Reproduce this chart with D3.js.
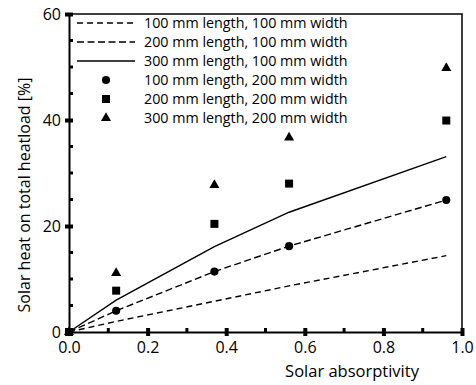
<!DOCTYPE html>
<html>
<head>
<meta charset="utf-8">
<script src="https://cdn.jsdelivr.net/npm/d3@7"></script>
<style>
  body { margin: 0; background: #fff; }
  svg text { font-family: "Open Sans", "Noto Sans", sans-serif; fill: #000; }
</style>
</head>
<body>
<svg id="chart" width="476" height="385"></svg>
<script>
// absorptivity values where the models were evaluated
let absorptivity = [0, 0.12, 0.37, 0.56, 0.96];

// lines (100 mm width)
let len100w100 = [0, 2.0, 5.8, 8.7, 14.4];
let len200w100 = [0, 4.0, 11.4, 16.2, 24.9];
let len300w100 = [0, 6.0, 16.1, 22.6, 33.1];

// markers (200 mm width)
let len100w200 = [0, 4.0, 11.4, 16.2, 24.9];
let len200w200 = [0, 7.8, 20.4, 28.0, 39.9];
let len300w200 = [0, 11.1, 27.7, 36.7, 49.8];

let xMajor = [0, 0.2, 0.4, 0.6, 0.8, 1.0];
let xMinor = [0.1, 0.3, 0.5, 0.7, 0.9];
let yMajor = [0, 20, 40, 60];
let yMinor = [5, 10, 15, 25, 30, 35, 45, 50, 55];

let lineSeries = [
  {name: "100 mm length, 100 mm width", values: len100w100, dash: "6,4"},
  {name: "200 mm length, 100 mm width", values: len200w100, dash: "7,3.5"},
  {name: "300 mm length, 100 mm width", values: len300w100, dash: null}
];
let markerSeries = [
  {name: "100 mm length, 200 mm width", values: len100w200, symbol: d3.symbolCircle, size: 52},
  {name: "200 mm length, 200 mm width", values: len200w200, symbol: d3.symbolSquare, size: 64},
  {name: "300 mm length, 200 mm width", values: len300w200, symbol: d3.symbolTriangle, size: 44}
];

let svg = d3.select("#chart");
let margin = {top: 14, right: 14, bottom: 53, left: 69};
let width = 476 - margin.left - margin.right, height = 385 - margin.top - margin.bottom;

let x = d3.scaleLinear().domain([0, 1]).range([0, width]);
let y = d3.scaleLinear().domain([0, 60]).range([height, 0]);

let g = svg.append("g").attr("transform", `translate(${margin.left},${margin.top})`);

// top and right frame
g.append("path")
  .attr("d", `M0,0H${width}V${height}`)
  .attr("fill", "none")
  .attr("stroke", "#000")
  .attr("stroke-width", 1.5);

// data lines
let line = d3.line().x((d, i) => x(absorptivity[i])).y(d => y(d));
lineSeries.forEach(s => {
  g.append("path")
    .datum(s.values)
    .attr("d", line)
    .attr("fill", "none")
    .attr("stroke", "#000")
    .attr("stroke-width", 1.4)
    .attr("stroke-dasharray", s.dash);
});

// markers
markerSeries.forEach(s => {
  g.append("g").selectAll("path")
    .data(s.values)
    .join("path")
    .attr("transform", (d, i) => `translate(${x(absorptivity[i])},${y(d)})`)
    .attr("d", d3.symbol().type(s.symbol).size(s.size))
    .attr("fill", "#000");
});

// x axis
let xAxis = g.append("g")
  .attr("transform", `translate(0,${height})`)
  .call(d3.axisBottom(x).tickValues(xMajor).tickSize(4).tickPadding(6).tickFormat(d3.format(".1f")));
xAxis.select(".domain").attr("stroke-width", 2).attr("stroke", "#000");
xAxis.selectAll(".tick line").attr("y1", -4).attr("stroke-width", 4).attr("stroke", "#000");
xAxis.selectAll(".tick text").attr("font-size", 16).attr("fill", "#000");
g.append("g").selectAll("line")
  .data(xMinor)
  .join("line")
  .attr("x1", d => x(d)).attr("x2", d => x(d))
  .attr("y1", height).attr("y2", height - 4)
  .attr("stroke", "#000").attr("stroke-width", 3);

// y axis
let yAxis = g.append("g")
  .call(d3.axisLeft(y).tickValues(yMajor).tickSize(4).tickPadding(4));
yAxis.select(".domain").attr("stroke-width", 2).attr("stroke", "#000");
yAxis.selectAll(".tick line").attr("x1", 4).attr("stroke-width", 4).attr("stroke", "#000");
yAxis.selectAll(".tick text").attr("font-size", 16).attr("fill", "#000");
g.append("g").selectAll("line")
  .data(yMinor)
  .join("line")
  .attr("x1", 0).attr("x2", 4)
  .attr("y1", d => y(d)).attr("y2", d => y(d))
  .attr("stroke", "#000").attr("stroke-width", 3);

// axis titles
svg.append("text")
  .attr("x", 352).attr("y", 377)
  .attr("text-anchor", "middle")
  .attr("font-size", 16.5)
  .text("Solar absorptivity");
svg.append("text")
  .attr("transform", "translate(30,195) rotate(-90)")
  .attr("text-anchor", "middle")
  .attr("font-size", 16)
  .text("Solar heat on total heatload [%]");

// legend
let legend = g.append("g").attr("transform", "translate(8,9)");
let rowH = 19;
lineSeries.forEach((s, i) => {
  legend.append("line")
    .attr("x1", 0).attr("x2", 58)
    .attr("y1", i * rowH).attr("y2", i * rowH)
    .attr("stroke", "#000").attr("stroke-width", 1.4)
    .attr("stroke-dasharray", s.dash);
});
markerSeries.forEach((s, i) => {
  legend.append("path")
    .attr("transform", `translate(29,${(i + 3) * rowH})`)
    .attr("d", d3.symbol().type(s.symbol).size(s.size))
    .attr("fill", "#000");
});
legend.selectAll("text")
  .data(lineSeries.concat(markerSeries))
  .join("text")
  .attr("x", 67)
  .attr("y", (d, i) => i * rowH)
  .attr("dy", "0.35em")
  .attr("font-size", 14.3)
  .text(d => d.name);
</script>
</body>
</html>
